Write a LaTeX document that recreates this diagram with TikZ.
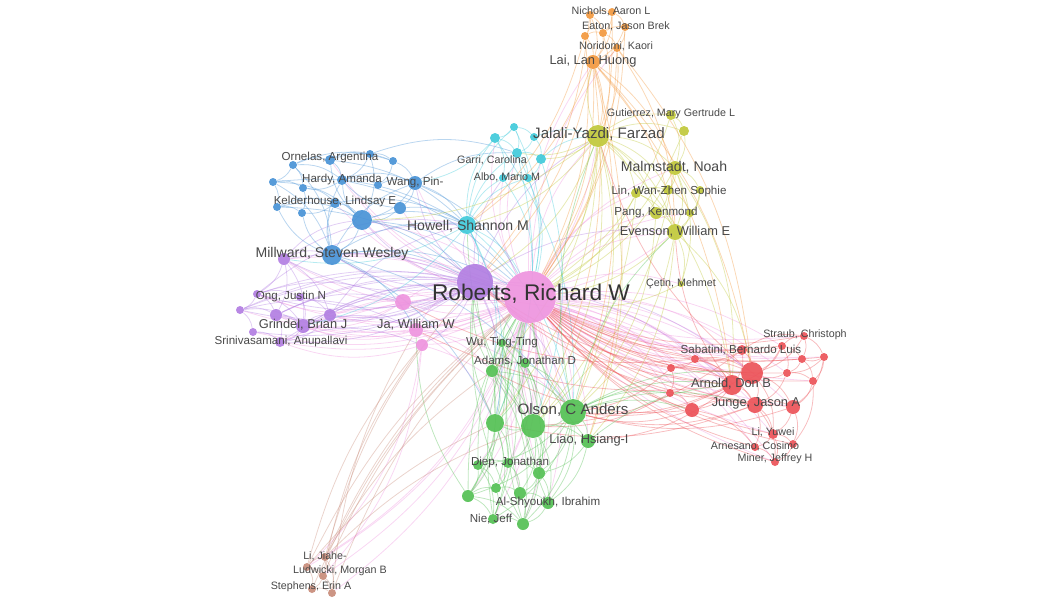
\documentclass[tikz,border=0pt]{standalone}
\usepackage{fontspec}
\setmainfont{Liberation Sans}

\pgfdeclarelayer{edges}
\pgfsetlayers{edges,main}

\definecolor{cpink}{RGB}{238,148,222}
\definecolor{cpurple}{RGB}{178,126,226}
\definecolor{cblue}{RGB}{72,146,214}
\definecolor{ccyan}{RGB}{64,202,218}
\definecolor{cyellow}{RGB}{192,200,58}
\definecolor{corange}{RGB}{242,152,62}
\definecolor{cred}{RGB}{236,82,88}
\definecolor{cgreen}{RGB}{84,192,84}
\definecolor{cbrown}{RGB}{200,140,122}
\definecolor{ctext}{RGB}{72,72,72}

\tikzset{
    bub/.style={circle, inner sep=0pt, minimum size=#1*0.04cm, fill opacity=.92},
    npink/.style={bub=#1, fill=cpink},
    npurple/.style={bub=#1, fill=cpurple},
    nblue/.style={bub=#1, fill=cblue},
    ncyan/.style={bub=#1, fill=ccyan},
    nyellow/.style={bub=#1, fill=cyellow},
    norange/.style={bub=#1, fill=corange},
    nred/.style={bub=#1, fill=cred},
    ngreen/.style={bub=#1, fill=cgreen},
    nbrown/.style={bub=#1, fill=cbrown},
    edge/.style={draw=#1, line width=.45pt, draw opacity=.38},
    lbl/.style={text=ctext, inner sep=0pt},
    lblxl/.style={lbl, text=black!80, font=\fontsize{12.9}{14}\selectfont},
    lbll/.style={lbl, font=\fontsize{8.6}{10}\selectfont},
    lblm/.style={lbl, font=\fontsize{8}{10}\selectfont},
    lbls/.style={lbl, font=\fontsize{7.3}{9}\selectfont},
    lblxs/.style={lbl, font=\fontsize{6.6}{8}\selectfont},
    lblxxs/.style={lbl, font=\fontsize{6.1}{7}\selectfont}
}

\begin{document}
\begin{tikzpicture}[x=0.02cm, y=-0.02cm]
\useasboundingbox (0,0) rectangle (1048,599);

% pink
\node[npink=26] (rob) at (530,297) {};
\node[npink=8] (pk1) at (403,302) {};
\node[npink=7] (ja) at (416,330) {};
\node[npink=6] (pk2) at (422,345) {};

% purple
\node[npurple=18] (pu0) at (475,282) {};
\node[npurple=6] (mil) at (284,259) {};
\node[npurple=4] (ong) at (257,294) {};
\node[npurple=4] (pu1) at (300,297) {};
\node[npurple=4] (pu2) at (240,310) {};
\node[npurple=6] (pu3) at (276,315) {};
\node[npurple=6] (pu4) at (330,315) {};
\node[npurple=7] (gri) at (303,326) {};
\node[npurple=4] (pu5) at (253,332) {};
\node[npurple=5] (sri) at (280,342) {};

% blue
\node[nblue=4] (bl1) at (293,165) {};
\node[nblue=5] (orn) at (330,160) {};
\node[nblue=4] (bl2) at (370,154) {};
\node[nblue=4] (bl3) at (393,161) {};
\node[nblue=4] (bl4) at (273,182) {};
\node[nblue=4] (bl5) at (303,188) {};
\node[nblue=5] (har) at (342,180) {};
\node[nblue=4] (bl6) at (378,185) {};
\node[nblue=7] (wang) at (415,183) {};
\node[nblue=4] (bl7) at (277,207) {};
\node[nblue=4] (bl8) at (302,213) {};
\node[nblue=5] (kel) at (335,203) {};
\node[nblue=6] (bl9) at (400,208) {};
\node[nblue=10] (bl10) at (362,220) {};
\node[nblue=10] (milw) at (332,255) {};

% cyan
\node[ncyan=4] (cy1) at (514,127) {};
\node[ncyan=5] (cy2) at (495,138) {};
\node[ncyan=4] (cy3) at (534,137) {};
\node[ncyan=5] (gar) at (517,153) {};
\node[ncyan=5] (cy4) at (541,159) {};
\node[ncyan=4] (alb) at (503,178) {};
\node[ncyan=4] (cy5) at (528,178) {};
\node[ncyan=9] (how) at (467,225) {};

% yellow
\node[nyellow=11] (jal) at (598,136) {};
\node[nyellow=5] (gut) at (671,115) {};
\node[nyellow=5] (ye1) at (684,131) {};
\node[nyellow=7] (mal) at (675,168) {};
\node[nyellow=4] (ye2) at (700,190) {};
\node[nyellow=5] (lin) at (636,193) {};
\node[nyellow=5] (ye3) at (668,190) {};
\node[nyellow=6] (pang) at (656,213) {};
\node[nyellow=4] (ye4) at (690,213) {};
\node[nyellow=8] (eve) at (675,232) {};
\node[nyellow=3] (cet) at (681,284) {};

% orange
\node[norange=4] (or1) at (590,15) {};
\node[norange=4] (or2) at (612,12) {};
\node[norange=4] (or3) at (585,36) {};
\node[norange=4] (or4) at (603,33) {};
\node[norange=4] (or5) at (625,27) {};
\node[norange=4] (nor) at (617,48) {};
\node[norange=7] (lai) at (593,62) {};

% red
\node[nred=4] (rd1) at (782,346) {};
\node[nred=4] (rd2) at (804,336) {};
\node[nred=4] (rd3) at (824,357) {};
\node[nred=4] (rd4) at (802,359) {};
\node[nred=5] (sab) at (742,350) {};
\node[nred=4] (rd5) at (695,359) {};
\node[nred=4] (rd6) at (671,368) {};
\node[nred=4] (rd7) at (787,373) {};
\node[nred=11] (rd8) at (752,373) {};
\node[nred=4] (rd9) at (813,381) {};
\node[nred=10] (arn) at (732,385) {};
\node[nred=4] (rd10) at (670,393) {};
\node[nred=7] (rd11) at (692,410) {};
\node[nred=8] (jun) at (755,405) {};
\node[nred=7] (rd12) at (793,407) {};
\node[nred=5] (liy) at (773,434) {};
\node[nred=4] (rd13) at (793,444) {};
\node[nred=4] (arne) at (755,447) {};
\node[nred=4] (min) at (775,462) {};

% green
\node[ngreen=4] (wu) at (502,343) {};
\node[ngreen=6] (ada) at (492,371) {};
\node[ngreen=5] (gr1) at (525,363) {};
\node[ngreen=13] (ols) at (573,412) {};
\node[ngreen=12] (gr2) at (533,426) {};
\node[ngreen=9] (gr3) at (495,423) {};
\node[ngreen=7] (lia) at (588,441) {};
\node[ngreen=5] (die) at (478,465) {};
\node[ngreen=5] (gr4) at (508,463) {};
\node[ngreen=6] (gr5) at (539,473) {};
\node[ngreen=6] (gr6) at (468,496) {};
\node[ngreen=5] (gr7) at (496,488) {};
\node[ngreen=6] (gr8) at (520,493) {};
\node[ngreen=6] (aly) at (548,503) {};
\node[ngreen=5] (nie) at (493,519) {};
\node[ngreen=6] (gr9) at (523,524) {};

% brown
\node[nbrown=4] (br1) at (307,567) {};
\node[nbrown=4] (br2) at (325,557) {};
\node[nbrown=4] (br3) at (323,576) {};
\node[nbrown=4] (br4) at (312,589) {};
\node[nbrown=4] (br5) at (332,593) {};

\begin{pgfonlayer}{edges}
% hub links
\foreach \n in {pk1,ja,pk2,pu0,mil,ong,pu3,pu4,gri,sri,pu2,pu5,milw,bl10,wang,bl9,kel,har,orn,how,gar,cy2,alb,jal,mal,eve,lin,pang,ye4,cet,lai,nor,sab,rd5,rd6,rd8,arn,rd10,rd11,jun,rd12,rd1,rd7,liy,arne,min,ols,gr2,gr3,ada,gr1,wu,lia,die,gr4,gr6,gr7,aly,nie,gr9,br1,br2,br3,br5}
    \draw[edge=cpink] (rob) to[bend left=18] (\n);
\foreach \n in {rd8,arn,jun,rd12,rd4,rd3,rd9,rd2,sab,gr2,ols,gr5,gr8,mil,pu4,gri,sri,bl10,milw,eve,jal,liy,min}
    \draw[edge=cpink] (rob) to[bend right=12] (\n);
\foreach \a/\b in {pk1/pu0,pk1/gri,pk1/pu4,pk1/mil,ja/ada,ja/gr3,pk2/br1,pk2/br3,ja/ols,pk1/arn,ja/pu0,pk2/gr2,ja/gri,pk2/sri,pk1/ong,ja/pu3}
    \draw[edge=cpink] (\a) to[bend left=18] (\b);

% purple
\foreach \n in {mil,ong,pu1,pu2,pu3,pu4,gri,sri,pu5,pk1,ja,pk2,milw,bl10,wang,how,alb,ada,gr3,gr2,ols,arn,rd8,jal,eve}
    \draw[edge=cpurple] (pu0) to[bend left=18] (\n);
\foreach \n in {mil,ong,pu3,gri,sri,pu2,milw}
    \draw[edge=cpurple] (pu0) to[bend right=14] (\n);
\foreach \a/\b in {mil/ong,mil/pu3,mil/gri,mil/pu4,ong/pu2,ong/pu3,ong/gri,pu2/pu3,pu2/pu5,pu3/gri,pu3/sri,pu5/sri,gri/sri,gri/pu4,pu4/sri,pu1/gri,pu1/pu4,ong/pu1,pu2/gri,mil/milw,mil/bl10,pu4/pk1,gri/ja,sri/pk2,pu3/pk1,ong/pk1,pu2/ja,mil/how,gri/rob,pu4/how,pu2/rob,pu3/rob,ong/how}
    \draw[edge=cpurple] (\a) to[bend left=20] (\b);

% blue
\foreach \a/\b in {bl1/orn,bl1/bl4,bl1/bl5,bl1/har,orn/bl2,orn/har,orn/bl3,bl2/bl3,bl2/har,bl3/wang,bl3/bl6,har/bl6,har/wang,har/bl5,bl4/bl5,bl4/bl7,bl5/kel,bl5/bl8,bl6/wang,wang/bl9,wang/bl10,kel/bl10,kel/bl8,bl7/bl8,bl7/kel,bl9/bl10,bl10/milw,milw/kel,milw/bl8,milw/bl7,milw/har,milw/wang,bl10/har,bl10/orn,bl9/har,bl4/milw,bl1/milw,bl2/bl10,bl4/bl10,bl7/bl10,bl1/bl3}
    \draw[edge=cblue] (\a) to[bend left=20] (\b);
\foreach \a/\b in {milw/how,milw/pu0,bl10/how,wang/how,bl9/how,wang/rob,milw/ols,bl10/pu0,milw/gr3,orn/how,bl2/gar,wang/gar,milw/ja,bl10/rob,har/rob,milw/rob,bl4/how,kel/how,bl7/pu0}
    \draw[edge=cblue] (\a) to[bend left=18] (\b);

% cyan
\foreach \a/\b in {cy1/cy2,cy1/cy3,cy1/gar,cy2/gar,cy3/gar,cy3/cy4,gar/cy4,gar/alb,gar/cy5,alb/cy5,cy4/cy5,cy2/alb,how/gar,how/alb,how/cy2,how/cy5,how/cy1}
    \draw[edge=ccyan] (\a) to[bend left=20] (\b);
\foreach \a/\b in {how/pu0,how/rob,how/ada,how/ols,cy4/jal,cy3/jal,gar/rob,alb/rob,cy5/rob,how/mil,how/gr3,cy2/wang,how/gri,cy1/rob,cy4/gr2,cy2/ols,gar/gr3}
    \draw[edge=ccyan] (\a) to[bend left=18] (\b);

% yellow
\foreach \a/\b in {jal/gut,jal/ye1,jal/mal,jal/lin,jal/ye3,jal/pang,jal/eve,gut/ye1,gut/mal,ye1/mal,mal/ye2,mal/ye3,mal/eve,ye2/eve,lin/pang,lin/ye3,ye3/pang,pang/eve,ye4/eve,ye3/ye4,lin/eve,eve/cet,mal/cet,ye2/ye4}
    \draw[edge=cyellow] (\a) to[bend left=20] (\b);
\foreach \a/\b in {jal/rob,jal/how,jal/lai,jal/ols,jal/gr2,jal/gr3,jal/ada,eve/rob,mal/rob,jal/pu0,lin/rob,eve/ols,mal/arn,eve/rd8,jal/arn,jal/lia,gut/rob,cet/rob,lin/gr2,jal/bl10,eve/lia,mal/gr2,ye1/rob,pang/ols,jal/gar,jal/cy4}
    \draw[edge=cyellow] (\a) to[bend left=18] (\b);

% orange
\foreach \a/\b in {or1/or2,or1/or3,or1/or4,or2/or4,or2/or5,or3/or4,or4/or5,or3/lai,or4/lai,or5/nor,nor/lai,or4/nor,or1/lai,or2/lai,or5/lai}
    \draw[edge=corange] (\a) to[bend left=20] (\b);
\foreach \a/\b in {lai/jal,lai/rob,nor/rob,or3/rob,lai/ols,lai/gr2,lai/eve,lai/mal,nor/jal,lai/arn,or5/rob,lai/how,or1/pu0,lai/lia,nor/rd8,or2/rob,or4/jal,lai/rd8,nor/eve,or3/how,lai/pu0}
    \draw[edge=corange] (\a) to[bend left=16] (\b);

% red
\foreach \a/\b in {rd1/rd2,rd1/rd4,rd1/sab,rd1/rd8,rd1/rd7,rd2/rd3,rd2/rd4,rd3/rd4,rd3/rd9,rd3/rd7,rd4/rd7,rd4/rd9,sab/rd8,sab/arn,sab/rd5,rd5/rd6,rd5/arn,rd6/arn,rd6/rd10,rd5/rd8,rd7/rd8,rd7/rd9,rd7/jun,rd8/arn,rd8/jun,rd8/rd12,rd9/rd12,arn/jun,arn/rd10,arn/rd11,rd10/rd11,rd11/jun,jun/rd12,jun/liy,jun/arne,jun/min,rd12/liy,rd12/rd13,liy/rd13,liy/arne,liy/min,arne/min,rd13/min,rd11/arne,rd8/liy,rd9/rd13,rd2/rd8,rd6/rd8,rd1/arn,rd3/rd12,sab/rd2,rd5/jun}
    \draw[edge=cred] (\a) to[bend left=20] (\b);
\foreach \a/\b in {arn/rob,rd8/rob,jun/rob,sab/rob,rd5/rob,rd6/rob,rd10/rob,rd11/rob,rd12/rob,rd1/rob,rd4/rob,rd2/rob,rd3/rob,rd9/rob,liy/rob,min/rob,arne/rob,rd8/pu0,arn/pu0,arn/ols,rd8/ols,jun/ols,rd11/ols,rd10/gr2,arn/lia,rd6/ols,rd8/jal,arn/eve,rd5/pk1,arn/ja,jun/gr3,rd11/ada,rd7/rob,rd13/rob,jun/pu0,rd12/ols,sab/gr2}
    \draw[edge=cred] (\a) to[bend left=16] (\b);

% green
\foreach \a/\b in {wu/ada,wu/gr1,wu/gr3,wu/gr2,ada/gr1,ada/gr3,ada/gr2,gr1/gr2,gr1/ols,ada/ols,ols/gr2,ols/lia,gr2/lia,gr2/gr3,gr3/die,gr3/gr4,gr3/gr6,gr3/gr7,gr2/gr4,gr2/gr5,gr2/gr8,gr2/aly,ols/gr5,ols/aly,ols/gr9,die/gr4,die/gr6,die/gr7,gr4/gr5,gr4/gr7,gr4/gr8,gr5/gr8,gr5/aly,gr6/gr7,gr6/nie,gr7/nie,gr7/gr8,gr8/aly,gr8/gr9,aly/gr9,nie/gr9,gr6/gr9,die/nie,gr3/nie,gr2/gr9,lia/aly,lia/gr5,ols/die,gr1/gr3,gr1/gr5,wu/gr6,ada/gr6,ada/gr9,ols/nie,wu/nie,gr1/gr9,ols/gr6}
    \draw[edge=cgreen] (\a) to[bend left=20] (\b);
\foreach \a/\b in {ols/rob,gr2/rob,gr3/rob,ada/rob,wu/rob,lia/rob,die/rob,gr6/rob,nie/rob,gr9/rob,ols/arn,ols/rd8,ols/jun,lia/arn,ols/jal,gr2/pu0,gr3/pu0,ada/pu0,ols/eve,ols/rd11,ols/rd10,gr2/how,gr6/ja,gr5/rob,aly/rob,gr8/rob,gr9/pu0}
    \draw[edge=cgreen] (\a) to[bend left=16] (\b);

% brown
\foreach \a/\b in {br1/br2,br1/br3,br1/br4,br2/br3,br3/br4,br3/br5,br4/br5,br2/br5,br1/br5}
    \draw[edge=cbrown] (\a) to[bend left=20] (\b);
\foreach \a/\b in {br1/rob,br2/rob,br3/rob,br2/pu0,br1/gr3,br2/ada,br3/pk2,br5/ja,br2/gr2,br1/pk2,br4/rob,br5/rob}
    \draw[edge=cbrown] (\a) to[bend left=12] (\b);
\end{pgfonlayer}

% labels
\node[lblxl] (robL) at (531,294) {Roberts, Richard W};
\node[lbll] (olsL) at (573,410) {Olson, C Anders};
\node[lbll] (jalL) at (599,134) {Jalali-Yazdi, Farzad};
\node[lblm] (milwL) at (332,254) {Millward, Steven Wesley};
\node[lblm] (howL) at (468,226) {Howell, Shannon M};
\node[lblm] (malL) at (674,167) {Malmstadt, Noah};
\node[lbls] (eveL) at (675,232) {Evenson, William E};
\node[lblxs] (linL) at (669,191) {Lin, Wan-Zhen Sophie};
\node[lblxs] (pangL) at (656,212) {Pang, Kenmond};
\node[lblxxs] (cetL) at (681,284) {Çetin, Mehmet};
\node[lblxxs] (gutL) at (671,114) {Gutierrez, Mary Gertrude L};
\node[lbls] (laiL) at (593,61) {Lai, Lan Huong};
\node[lblxxs] (norL) at (616,46) {Noridomi, Kaori};
\node[lblxxs] (eatL) at (626,26) {Eaton, Jason Brek};
\node[lblxxs] (nicL) at (611,11) {Nichols, Aaron L};
\node[lblxxs] (garL) at (492,160) {Garri, Carolina};
\node[lblxxs] (albL) at (507,177) {Albo, Mario M};
\node[lblxs] (ornL) at (330,157) {Ornelas, Argentina};
\node[lblxs] (harL) at (342,179) {Hardy, Amanda};
\node[lblxs] (wangL) at (415,182) {Wang, Pin-};
\node[lblxs] (kelL) at (335,201) {Kelderhouse, Lindsay E};
\node[lblxs] (ongL) at (291,296) {Ong, Justin N};
\node[lbls] (griL) at (303,325) {Grindel, Brian J};
\node[lblxs] (sriL) at (281,341) {Srinivasamani, Anupallavi};
\node[lbls] (jaL) at (416,325) {Ja, William W};
\node[lblxs] (wuL) at (502,342) {Wu, Ting-Ting};
\node[lblxs] (adaL) at (525,361) {Adams, Jonathan D};
\node[lbls] (liaL) at (589,440) {Liao, Hsiang-I};
\node[lblxs] (dieL) at (510,462) {Diep, Jonathan};
\node[lblxs] (alyL) at (548,502) {Al-Shyoukh, Ibrahim};
\node[lblxs] (nieL) at (491,519) {Nie, Jeff};
\node[lblxs] (sabL) at (741,350) {Sabatini, Bernardo Luis};
\node[lblxxs] (strL) at (805,335) {Straub, Christoph};
\node[lbls] (arnL) at (731,384) {Arnold, Don B};
\node[lbls] (junL) at (756,403) {Junge, Jason A};
\node[lblxxs] (liyL) at (773,432) {Li, Yuwei};
\node[lblxxs] (arneL) at (755,446) {Arnesano, Cosimo};
\node[lblxxs] (minL) at (775,459) {Miner, Jeffrey H};
\node[lblxxs] (lijL) at (325,556) {Li, Jiahe-};
\node[lblxxs] (ludL) at (340,571) {Ludwicki, Morgan B};
\node[lblxxs] (steL) at (311,587) {Stephens, Erin A};

\end{tikzpicture}
\end{document}
